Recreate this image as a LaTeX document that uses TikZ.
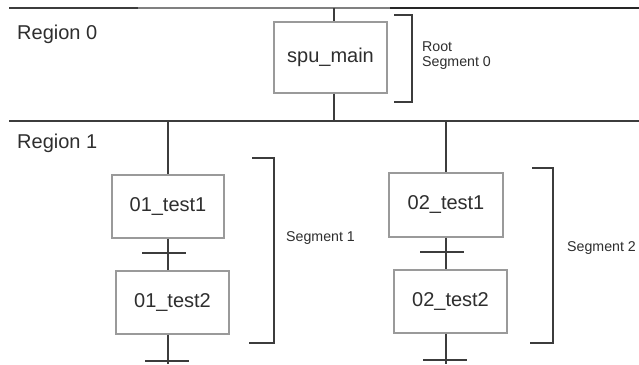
\documentclass[tikz,border=0pt]{standalone}
\usepackage{fontspec}
\setmainfont{Liberation Sans}
\begin{document}
\begin{tikzpicture}[x=1pt,y=-1pt,
  box/.style={draw=boxgray,line width=1.1pt,fill=white,inner sep=0pt,font=\fontsize{20}{22}\selectfont,text=txt},
  conn/.style={draw=linegray,line width=1.3pt},
  bar/.style={draw=linegray,line width=1.6pt},
  endbar/.style={draw=linegray,line width=2.2pt},
  brk/.style={draw=linegray,line width=1.4pt},
  lbl/.style={font=\fontsize{20}{22}\selectfont,text=txt,inner sep=0pt,anchor=west},
  slbl/.style={font=\fontsize{14.2}{15.5}\selectfont,text=txt,inner sep=0pt,anchor=west,align=left}]
\definecolor{boxgray}{HTML}{9A9A9A}
\definecolor{linegray}{HTML}{3C3C3C}
\definecolor{txt}{HTML}{2E2E2E}
\useasboundingbox (0,0) rectangle (639,364);
\fill[white] (0,0) rectangle (639,364);
% region lines
\draw[conn,draw=linegray] (9,8) -- (138,8);
\draw[conn,draw=gray] (138,8) -- (390,8);
\draw[conn,draw=black!85] (390,8) -- (639,8);
\draw[conn] (9,121) -- (639,121);
% labels
\node[lbl] (r0) at (17,34) {Region 0};
\node[lbl] (r1) at (17,143) {Region 1};
% boxes
\node[box,minimum width=113pt,minimum height=71pt] (spu) at (330.5,57.5) {spu\_main};
\node[box,minimum width=112pt,minimum height=63pt] (a1) at (168,206.5) {01\_test1};
\node[box,minimum width=113pt,minimum height=63pt] (a2) at (172.5,302.5) {01\_test2};
\node[box,minimum width=114pt,minimum height=64pt] (b1) at (446,205) {02\_test1};
\node[box,minimum width=113pt,minimum height=63pt] (b2) at (450.5,301.5) {02\_test2};
% connectors
\coordinate (st) at (334,8);
\coordinate (sb) at (334,121);
\draw[conn] (st) -- (st |- spu.north);
\draw[conn] (sb |- spu.south) -- (sb);
\coordinate (at) at (168,121);
\coordinate (ab) at (168,364);
\draw[conn] (at) -- (at |- a1.north);
\draw[conn] (at |- a1.south) -- (at |- a2.north);
\draw[conn] (at |- a2.south) -- (ab);
\coordinate (bt) at (446,121);
\coordinate (bb) at (446,364);
\draw[conn] (bt) -- (bt |- b1.north);
\draw[conn] (bt |- b1.south) -- (bt |- b2.north);
\draw[conn] (bt |- b2.south) -- (bb);
% crossbars
\draw[bar] (142,253) -- (186,253);
\draw[endbar] (145,361) -- (189,361);
\draw[bar] (420,252) -- (464,252);
\draw[endbar] (423,360) -- (467,360);
% brackets
\draw[brk] (394,15) -- (412,15) -- (412,102) -- (394,102);
\draw[brk] (252,158) -- (274,158) -- (274,343) -- (249,343);
\draw[brk] (532,168) -- (553,168) -- (553,343) -- (530,343);
% bracket labels
\node[slbl] (root) at (422,55.5) {Root\\Segment 0};
\node[slbl] (s1) at (286,238.5) {Segment 1};
\node[slbl] (s2) at (567,248.5) {Segment 2};
\end{tikzpicture}
\end{document}
